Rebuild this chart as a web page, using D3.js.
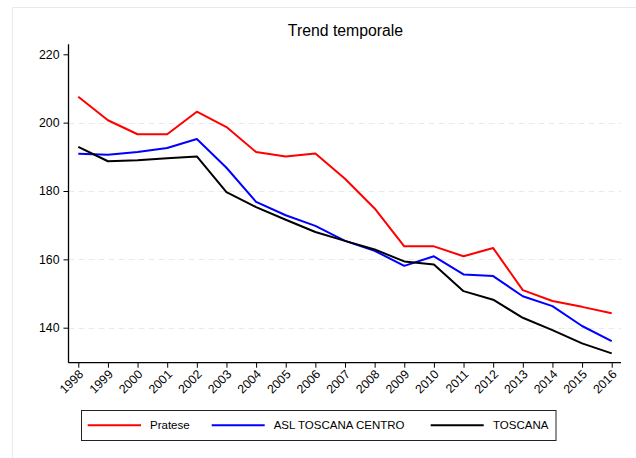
<!DOCTYPE html>
<html>
<head>
<meta charset="utf-8">
<script src="https://cdn.jsdelivr.net/npm/d3@7/dist/d3.min.js"></script>
<style>
  html, body { margin: 0; padding: 0; background: #fff; }
  svg { display: block; font-family: "Liberation Sans", Arial, sans-serif; }
</style>
</head>
<body>
<svg id="chart" width="636" height="458"></svg>
<script>
// Years on the x axis
const years = [1998, 1999, 2000, 2001, 2002, 2003, 2004, 2005, 2006, 2007,
               2008, 2009, 2010, 2011, 2012, 2013, 2014, 2015, 2016];

// Series values
const pratese = [207.6, 200.7, 196.6, 196.6, 203.2, 198.7, 191.4, 190.1, 191.0, 183.6,
                 174.9, 163.8, 163.8, 160.9, 163.3, 151.0, 147.8, 146.1, 144.2];
const aslCentro = [190.9, 190.6, 191.4, 192.6, 195.2, 186.8, 176.8, 172.9, 169.8, 165.4,
                   162.5, 158.1, 160.9, 155.6, 155.1, 149.2, 146.3, 140.5, 136.1];
const toscana = [192.9, 188.7, 189.0, 189.6, 190.1, 179.7, 175.3, 171.6, 168.0, 165.4,
                 162.9, 159.4, 158.5, 150.7, 148.2, 142.9, 139.3, 135.4, 132.5];

const seriesNames = ["Pratese", "ASL TOSCANA CENTRO", "TOSCANA"];
const seriesColors = ["#ff0000", "#0000ff", "#000000"];
const yTicks = [140, 160, 180, 200, 220];
const title = "Trend temporale";

const series = [pratese, aslCentro, toscana].map((vals, i) => ({
  name: seriesNames[i],
  color: seriesColors[i],
  values: vals.map((v, j) => ({ year: years[j], value: v }))
}));

const svg = d3.select("#chart");

// Outer graph region frame
svg.append("rect")
  .attr("x", 12.5).attr("y", 7.5)
  .attr("width", 700).attr("height", 600)
  .attr("fill", "none").attr("stroke", "#e4ecec").attr("stroke-width", 1);

const plot = { left: 68.5, right: 621, top: 44.3, bottom: 362.7 };

const x = d3.scaleLinear()
  .domain([1998, 2016])
  .range([78.3, 611.7]);

const y = d3.scaleLinear()
  .domain([140, 220])
  .range([327.7, 54.3]);

// Dashed gridlines
svg.append("g")
  .selectAll("line")
  .data(yTicks.filter(t => t !== 220))
  .join("line")
  .attr("x1", plot.left).attr("x2", plot.right)
  .attr("y1", d => Math.round(y(d)) + 0.5).attr("y2", d => Math.round(y(d)) + 0.5)
  .attr("stroke", "#eaeaea").attr("stroke-width", 1)
  .attr("stroke-dasharray", "6,4");

// Y axis
const yAxis = svg.append("g")
  .attr("transform", `translate(${plot.left},0)`)
  .call(d3.axisLeft(y).tickValues(yTicks).tickSize(5).tickPadding(4).tickSizeOuter(0));
yAxis.select(".domain").remove();
yAxis.append("line")
  .attr("x1", 0).attr("x2", 0).attr("y1", plot.top).attr("y2", plot.bottom)
  .attr("stroke", "#000").attr("stroke-width", 1.3);
yAxis.selectAll(".tick line").attr("stroke", "#000");
yAxis.selectAll(".tick text")
  .attr("font-size", 12.3).attr("fill", "#000")
  .attr("font-family", "'Liberation Sans', Arial, sans-serif");

// X axis
const xAxis = svg.append("g")
  .attr("transform", `translate(0,${plot.bottom})`)
  .call(d3.axisBottom(x).tickValues(years).tickFormat(d3.format("d")).tickSize(5).tickSizeOuter(0));
xAxis.select(".domain").remove();
xAxis.append("line")
  .attr("x1", plot.left).attr("x2", plot.right).attr("y1", 0).attr("y2", 0)
  .attr("stroke", "#000").attr("stroke-width", 1.3);
xAxis.selectAll(".tick line").attr("stroke", "#000");
xAxis.selectAll(".tick text")
  .attr("font-size", 12.3).attr("fill", "#000")
  .attr("font-family", "'Liberation Sans', Arial, sans-serif")
  .attr("text-anchor", "end")
  .attr("dy", null)
  .attr("y", 0)
  .attr("transform", "translate(3,10) rotate(-45)")
  .attr("dominant-baseline", "middle");

// Series lines
const line = d3.line()
  .x(d => x(d.year))
  .y(d => y(d.value));

svg.append("g")
  .selectAll("path")
  .data(series)
  .join("path")
  .attr("d", d => line(d.values))
  .attr("fill", "none")
  .attr("stroke", d => d.color)
  .attr("stroke-width", 2)
  .attr("stroke-linejoin", "round");

// Title
svg.append("text")
  .attr("x", 345.5).attr("y", 36)
  .attr("text-anchor", "middle")
  .attr("font-size", 15.8)
  .attr("fill", "#000")
  .text(title);

// Legend
const legend = svg.append("g");
legend.append("rect")
  .attr("x", 81.5).attr("y", 410.5)
  .attr("width", 474.5).attr("height", 30)
  .attr("fill", "#fff").attr("stroke", "#222").attr("stroke-width", 1);

const legendItems = [
  { x1: 87.7, x2: 141, tx: 150 },
  { x1: 211.7, x2: 264.7, tx: 273.7 },
  { x1: 430.7, x2: 483.7, tx: 493 }
];
const legendY = 425.3;
series.forEach((s, i) => {
  const it = legendItems[i];
  legend.append("line")
    .attr("x1", it.x1).attr("x2", it.x2)
    .attr("y1", legendY).attr("y2", legendY)
    .attr("stroke", s.color).attr("stroke-width", 2);
  legend.append("text")
    .attr("x", it.tx).attr("y", legendY)
    .attr("dy", "0.35em")
    .attr("font-size", 11.5)
    .attr("fill", "#000")
    .text(s.name);
});
</script>
</body>
</html>
